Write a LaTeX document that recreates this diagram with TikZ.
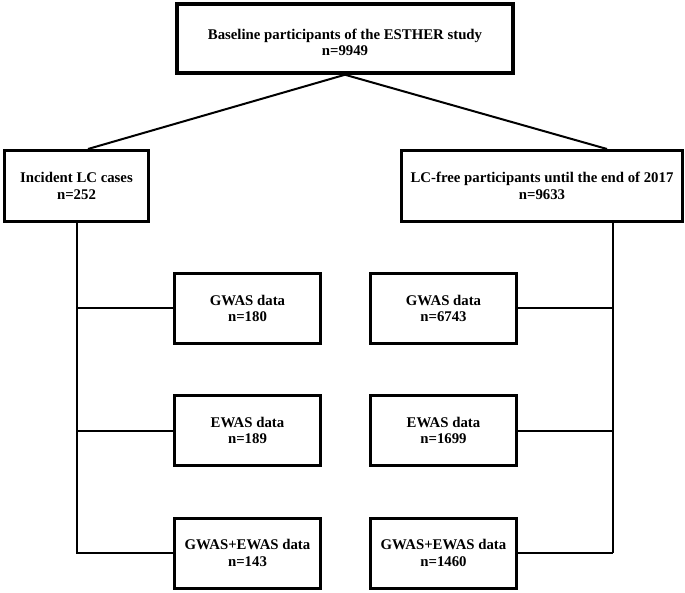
\documentclass[tikz,border=0pt]{standalone}
\usepackage{fontspec}
\setmainfont{Liberation Serif}
\begin{document}
\begin{tikzpicture}[x=1pt,y=-1pt,
  box/.style={draw, line width=3pt, align=center, inner sep=0pt,
    font=\fontsize{14.8}{16.5}\selectfont\bfseries},
  link/.style={line width=2pt},
  trunk/.style={line width=1.6pt}]
\useasboundingbox[fill=white] (0,0) rectangle (685,593);
\node[box, line width=3.5pt, minimum width=336pt, minimum height=69pt] (top) at (345,38.5)
  {\rule{0pt}{18pt}Baseline participants of the ESTHER study\\n=9949};
\node[box, minimum width=144pt, minimum height=71pt] (lc) at (76.5,186)
  {Incident LC cases\\n=252};
\node[box, minimum width=281pt, minimum height=71pt] (lf) at (542,186)
  {LC-free participants until the end of 2017\\n=9633};
\node[box, minimum width=146pt, minimum height=70pt] (g1) at (247.5,308.5) {GWAS data\\n=180};
\node[box, minimum width=146pt, minimum height=70pt] (g2) at (443.5,308.5) {GWAS data\\n=6743};
\node[box, minimum width=146pt, minimum height=70pt] (e1) at (247.5,430.5) {EWAS data\\n=189};
\node[box, minimum width=146pt, minimum height=70pt] (e2) at (443.5,430.5) {EWAS data\\n=1699};
\node[box, minimum width=146pt, minimum height=70pt] (b1) at (247.5,553) {GWAS+EWAS data\\n=143};
\node[box, minimum width=146pt, minimum height=70pt] (b2) at (443.5,553) {GWAS+EWAS data\\n=1460};
\coordinate (la) at (88,149);
\coordinate (ra) at (607,149);
\coordinate (rt) at (613,223);
\draw[link] (top.south) -- (la);
\draw[link] (top.south) -- (ra);
\draw[link] (lc.south) -- (lc.south |- b1.west) -- (b1.west);
\draw[link] (lc.south |- g1.west) -- (g1.west);
\draw[link] (lc.south |- e1.west) -- (e1.west);
\draw[trunk] (rt) -- (rt |- b2.east);
\draw[link] (b2.east) -- (rt |- b2.east);
\draw[link] (g2.east) -- (rt |- g2.east);
\draw[link] (e2.east) -- (rt |- e2.east);
\end{tikzpicture}
\end{document}
